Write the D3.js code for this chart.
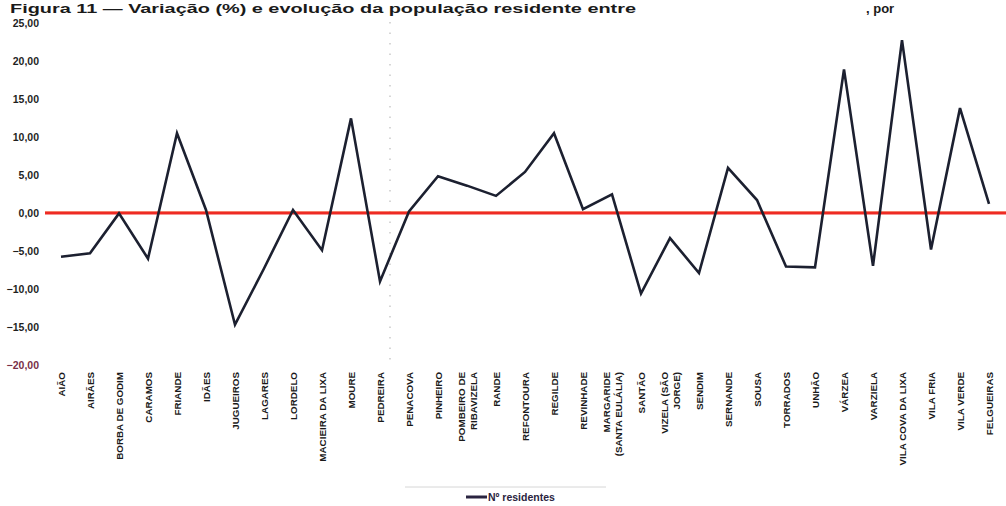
<!DOCTYPE html>
<html>
<head>
<meta charset="utf-8">
<script src="https://cdn.jsdelivr.net/npm/d3@7"></script>
<style>
  html, body { margin: 0; padding: 0; background: #fff; }
  svg { display: block; }
</style>
</head>
<body>
<svg id="chart" width="1006" height="506"></svg>
<script>
// Freguesias (labels may wrap with "\n")
const categories = [
  "AIÃO", "AIRÃES", "BORBA DE GODIM", "CARAMOS", "FRIANDE", "IDÃES",
  "JUGUEIROS", "LAGARES", "LORDELO", "MACIEIRA DA LIXA", "MOURE", "PEDREIRA",
  "PENACOVA", "PINHEIRO", "POMBEIRO DE\nRIBAVIZELA", "RANDE", "REFONTOURA",
  "REGILDE", "REVINHADE", "MARGARIDE\n(SANTA EULÁLIA)", "SANTÃO",
  "VIZELA (SÃO\nJORGE)", "SENDIM", "SERNANDE", "SOUSA", "TORRADOS", "UNHÃO",
  "VÁRZEA", "VARZIELA", "VILA COVA DA LIXA", "VILA FRIA", "VILA VERDE",
  "FELGUEIRAS"
];

// Variação (%) dos residentes
const variacao = [
  -5.75, -5.3, -0.05, -6.0, 10.5, 0.4,
  -14.7, -7.3, 0.4, -4.9, 12.45, -9.0,
  0.2, 4.85, 3.6, 2.25, 5.4,
  10.5, 0.5, 2.45, -10.6,
  -3.3, -7.9, 5.95, 1.7, -7.05, -7.15,
  18.9, -6.95, 22.75, -4.8, 13.8,
  1.2
];

const yTicks = [-20, -15, -10, -5, 0, 5, 10, 15, 20, 25];
const titleText = "Figura 11 — Variação (%) e evolução da população residente entre";
const legendLabel = "Nº residentes";

const svg = d3.select("#chart");
const fmt = d3.formatLocale({ decimal: ",", thousands: ".", grouping: [3], currency: ["", "€"] }).format(".2f");

const x = d3.scalePoint().domain(categories).range([61, 989]);
const y = d3.scaleLinear().domain([-20, 25]).range([365, 23]);

// Title
svg.append("text")
  .attr("x", 10).attr("y", 13)
  .attr("font-family", "Liberation Sans, Arial, sans-serif")
  .attr("font-weight", "bold").attr("font-size", 13)
  .attr("textLength", 626).attr("lengthAdjust", "spacingAndGlyphs")
  .attr("fill", "#1a1a1a")
  .text(titleText);
svg.append("text")
  .attr("x", 866).attr("y", 13)
  .attr("font-family", "Liberation Sans, Arial, sans-serif")
  .attr("font-weight", "bold").attr("font-size", 13)
  .attr("fill", "#1a1a1a")
  .text(", por");

// Faint dotted vertical trace
svg.append("line")
  .attr("x1", 390).attr("x2", 390).attr("y1", 22).attr("y2", 362)
  .attr("stroke", "#bdbdbd").attr("stroke-width", 1.2)
  .attr("stroke-dasharray", "1.5,9");

// Y axis labels
const yAxis = d3.axisLeft(y).tickValues(yTicks).tickFormat(fmt).tickSize(0).tickPadding(0);
const yg = svg.append("g").attr("transform", "translate(39,0)").call(yAxis);
yg.select(".domain").remove();
yg.selectAll("text")
  .attr("font-family", "Liberation Sans Narrow, Arial Narrow, Liberation Sans, sans-serif")
  .attr("font-weight", "bold").attr("font-size", 10.5)
  .attr("fill", d => d === -20 ? "#7a3048" : "#1f1f1f");

// X axis labels, rotated
const xAxis = d3.axisBottom(x).tickSize(0).tickPadding(0).tickFormat("");
const xg = svg.append("g").attr("transform", "translate(0,372)").call(xAxis);
xg.select(".domain").remove();
const lh = 12;
xg.selectAll(".tick").each(function (d) {
  const lines = d.split("\n");
  const t = d3.select(this).append("text")
    .attr("transform", "rotate(-90)")
    .attr("text-anchor", "end")
    .attr("font-family", "Liberation Sans, Arial, sans-serif")
    .attr("font-weight", "bold").attr("font-size", 9.8)
    .attr("fill", "#1a1a1a");
  lines.forEach((ln, i) => {
    t.append("tspan")
      .attr("x", 0)
      .attr("y", (i - (lines.length - 1) / 2) * lh + 3.5)
      .text(ln);
  });
});

// Zero reference line
svg.append("line")
  .attr("x1", 45).attr("x2", 1006)
  .attr("y1", y(0) - 1.2).attr("y2", y(0) - 1.2)
  .attr("stroke", "#ffb36b").attr("stroke-width", 1.2).attr("opacity", 0.7);
svg.append("line")
  .attr("x1", 45).attr("x2", 1006)
  .attr("y1", y(0)).attr("y2", y(0))
  .attr("stroke", "#ee2a24").attr("stroke-width", 3);

// Series line
const line = d3.line().x((d, i) => x(categories[i])).y(d => y(d));
svg.append("path")
  .datum(variacao)
  .attr("d", line)
  .attr("fill", "none")
  .attr("stroke", "#1c2030")
  .attr("stroke-width", 2.6)
  .attr("stroke-linejoin", "miter");

// Legend
svg.append("line")
  .attr("x1", 405).attr("x2", 606).attr("y1", 487).attr("y2", 487)
  .attr("stroke", "#d6d6d6").attr("stroke-width", 1);
svg.append("line")
  .attr("x1", 466).attr("x2", 487).attr("y1", 497).attr("y2", 497)
  .attr("stroke", "#2a2440").attr("stroke-width", 3);
svg.append("text")
  .attr("x", 488).attr("y", 501)
  .attr("font-family", "Liberation Sans Narrow, Arial Narrow, Liberation Sans, sans-serif")
  .attr("font-weight", "bold").attr("font-size", 10.5)
  .attr("fill", "#2a2440")
  .text(legendLabel);
</script>
</body>
</html>
